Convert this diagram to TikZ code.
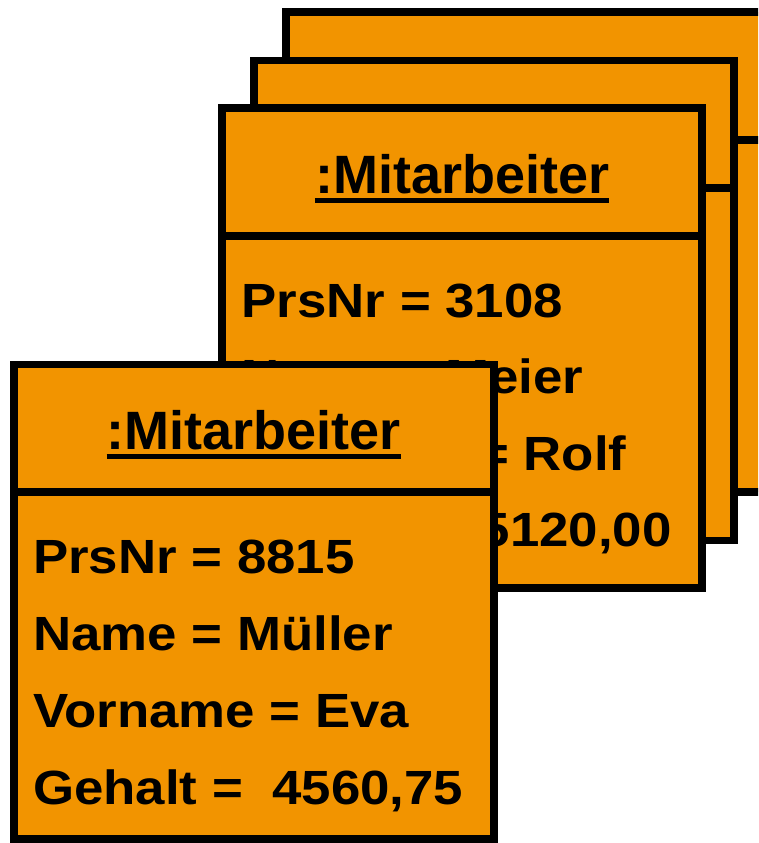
\documentclass[tikz,border=0pt]{standalone}
\usepackage{fontspec}
\setmainfont{Liberation Sans}
\newfontfamily\bodyfont[FakeStretch=1.1]{Liberation Sans}
\definecolor{obj}{RGB}{242,148,0}
\begin{document}
\begin{tikzpicture}[x=1pt,y=-1pt,
  objbox/.style={draw=black, fill=obj, line width=7.7pt, inner sep=0pt, outer sep=0pt,
    anchor=north west, minimum width=480pt, minimum height=480pt},
  divider/.style={line width=7.7pt},
  hdr/.style={font=\fontsize{54}{54}\selectfont\bfseries, inner sep=0pt, anchor=base},
  attr/.style={font=\bodyfont\fontsize{48}{48}\selectfont\bfseries, inner sep=0pt, anchor=base west},
  uline/.style={line width=5pt}]
\useasboundingbox (0,0) rectangle (758,843);
\clip (0,0) rectangle (758,843);
% back box 3
\node[objbox] (b3) at (286,12.2) {};
\draw[divider] ([yshift=-128pt]b3.north west) -- ([yshift=-128pt]b3.north east);
% box 2
\node[objbox] (b2) at (254,60.5) {};
\draw[divider] ([yshift=-127.5pt]b2.north west) -- ([yshift=-127.5pt]b2.north east);
% box 1
\node[objbox] (b1) at (222.2,108.3) {};
\draw[divider] ([yshift=-127.7pt]b1.north west) -- ([yshift=-127.7pt]b1.north east);
\node[hdr] (h1) at (462.1,193.1) {:Mitarbeiter};
\draw[uline] ([yshift=-7.5pt]h1.base west) -- ([yshift=-7.5pt]h1.base east);
\node[attr] (a11) at (241.5,317.3) {PrsNr = 3108};
\node[attr] (a12) at (241.5,393.8) {Name = Meier};
\node[attr] (a13) at (241.5,470.3) {Vorname = Rolf};
\node[attr] (a14) at (241.5,546.8) {Gehalt =\ \ 5120,00};
% front box 0
\node[objbox, minimum height=474.5pt] (b0) at (13.7,364.5) {};
\draw[divider] ([yshift=-127.5pt]b0.north west) -- ([yshift=-127.5pt]b0.north east);
\node[hdr] (h0) at (253.9,449.3) {:Mitarbeiter};
\draw[uline] ([yshift=-7.5pt]h0.base west) -- ([yshift=-7.5pt]h0.base east);
\node[attr] (a01) at (33,573.3) {PrsNr = 8815};
\node[attr] (a02) at (33,650.3) {Name = Müller};
\node[attr] (a03) at (33,727.3) {Vorname = Eva};
\node[attr] (a04) at (33,804.3) {Gehalt =\ \ 4560,75};
\end{tikzpicture}
\end{document}
